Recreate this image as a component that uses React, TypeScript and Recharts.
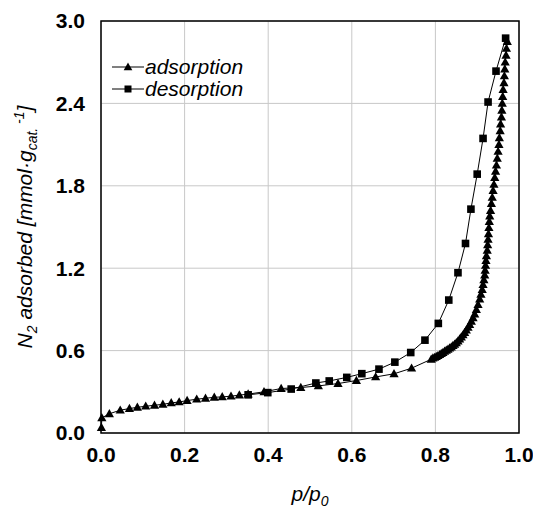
import {
  ScatterChart,
  Scatter,
  XAxis,
  YAxis,
  CartesianGrid,
  Legend,
  ReferenceArea,
  Label,
} from "recharts";

// relative pressure p/p0 and amount adsorbed (mmol/g) read from the isotherm
const adsP = [
  0.001, 0.002, 0.02, 0.046, 0.068, 0.087, 0.107, 0.128, 0.148, 0.168, 0.187,
  0.206, 0.229, 0.25, 0.271, 0.29, 0.311, 0.331, 0.352, 0.39, 0.431, 0.478,
  0.52, 0.567, 0.611, 0.657, 0.701, 0.743, 0.79, 0.794, 0.798, 0.802, 0.806,
  0.81, 0.814, 0.818, 0.822, 0.826, 0.83, 0.834, 0.838, 0.842, 0.846, 0.85,
  0.854, 0.858, 0.862, 0.866, 0.87, 0.874, 0.878, 0.882, 0.886, 0.89, 0.894,
  0.898, 0.902, 0.906, 0.909, 0.912, 0.914, 0.916, 0.918, 0.919, 0.92, 0.921,
  0.922, 0.924, 0.925, 0.926, 0.927, 0.928, 0.929, 0.93, 0.932, 0.934, 0.936,
  0.938, 0.94, 0.942, 0.944, 0.946, 0.948, 0.95, 0.952, 0.953, 0.955, 0.956,
  0.958, 0.959, 0.96, 0.961, 0.962, 0.964, 0.965, 0.966, 0.967, 0.969, 0.97,
  0.972,
];
const adsN = [
  0.04, 0.11, 0.14, 0.166, 0.178, 0.187, 0.195, 0.202, 0.209, 0.219, 0.226,
  0.236, 0.246, 0.253, 0.26, 0.263, 0.268, 0.276, 0.283, 0.3, 0.324, 0.331,
  0.343, 0.36, 0.382, 0.408, 0.431, 0.472, 0.537, 0.545, 0.55, 0.556, 0.563,
  0.57, 0.578, 0.586, 0.594, 0.602, 0.61, 0.618, 0.626, 0.636, 0.646, 0.657,
  0.67, 0.684, 0.698, 0.714, 0.731, 0.75, 0.77, 0.79, 0.813, 0.838, 0.866,
  0.898, 0.935, 0.975, 1.01, 1.045, 1.08, 1.115, 1.15, 1.185, 1.22, 1.255,
  1.29, 1.33, 1.37, 1.41, 1.45, 1.495, 1.54, 1.58, 1.62, 1.67, 1.715, 1.765,
  1.81, 1.86, 1.905, 1.95, 2.0, 2.05, 2.1, 2.15, 2.2, 2.25, 2.3, 2.35, 2.4,
  2.45, 2.5, 2.55, 2.6, 2.65, 2.7, 2.75, 2.8, 2.85,
];
const desP = [
  0.968, 0.945, 0.926, 0.914, 0.9, 0.885, 0.872, 0.854, 0.832, 0.807, 0.775,
  0.741, 0.703, 0.665, 0.624, 0.588, 0.546, 0.514, 0.455, 0.399, 0.352,
];
const desN = [
  2.875, 2.635, 2.41, 2.145, 1.885, 1.63, 1.38, 1.167, 0.968, 0.798, 0.676,
  0.586, 0.516, 0.465, 0.432, 0.405, 0.379, 0.364, 0.32, 0.294, 0.278,
];
const xTicks = [0, 0.2, 0.4, 0.6, 0.8, 1.0];
const yTicks = [0, 0.6, 1.2, 1.8, 2.4, 3.0];
const seriesNames = ["adsorption", "desorption"];

const FONT = '"Liberation Sans", Arial, sans-serif';

const adsData = adsP.map((p, i) => ({ p, n: adsN[i] }));
const desData = desP.map((p, i) => ({ p, n: desN[i] }));

function Triangle(props: any) {
  const { cx, cy } = props;
  if (cx == null || cy == null) return null;
  return (
    <polygon
      points={`${cx},${cy - 4.8} ${cx + 4.6},${cy + 3.4} ${cx - 4.6},${cy + 3.4}`}
      fill="#000"
    />
  );
}

function Square(props: any) {
  const { cx, cy } = props;
  if (cx == null || cy == null) return null;
  return <rect x={cx - 3.8} y={cy - 3.8} width={7.6} height={7.6} fill="#000" />;
}

function LegendBox() {
  const row = (name: string, marker: "tri" | "sq") => (
    <div key={name} style={{ display: "flex", alignItems: "center", height: 22 }}>
      <svg width={32} height={12} style={{ marginRight: 1 }}>
        <line x1={0} y1={6} x2={32} y2={6} stroke="#000" strokeWidth={1} />
        {marker === "tri" ? (
          <polygon points="16,1.5 20.3,9.2 11.7,9.2" fill="#000" />
        ) : (
          <rect x={12.5} y={2.5} width={7} height={7} fill="#000" />
        )}
      </svg>
      <span>{name}</span>
    </div>
  );
  return (
    <div
      style={{
        fontFamily: FONT,
        fontStyle: "italic",
        fontSize: 21,
        color: "#000",
        lineHeight: "22px",
      }}
    >
      {row(seriesNames[0], "tri")}
      {row(seriesNames[1], "sq")}
    </div>
  );
}

function YTitle(props: any) {
  const vb = props.viewBox || {};
  const cy = (vb.y ?? 21) + (vb.height ?? 412) / 2;
  const x = 32;
  return (
    <text
      x={x}
      y={cy}
      transform={`rotate(-90, ${x}, ${cy})`}
      textAnchor="middle"
      fontFamily={FONT}
      fontStyle="italic"
      fontSize={21}
      fill="#000"
    >
      N<tspan dy={5} fontSize={14}>2</tspan>
      <tspan dy={-5}> adsorbed [mmol·g</tspan>
      <tspan dy={5} fontSize={14}>cat.</tspan>
      <tspan dy={-13} fontSize={14}> -1</tspan>
      <tspan dy={8}>]</tspan>
    </text>
  );
}

function XTitle(props: any) {
  const vb = props.viewBox || {};
  const cx = (vb.x ?? 101) + (vb.width ?? 418) / 2;
  return (
    <text
      x={cx}
      y={501}
      textAnchor="middle"
      fontFamily={FONT}
      fontStyle="italic"
      fontSize={21}
      fill="#000"
    >
      p/p<tspan dy={5} fontSize={14}>0</tspan>
    </text>
  );
}

export default function App() {
  return (
    <div style={{ position: "absolute", left: 0, top: 0, background: "#fff" }}>
      <ScatterChart
        width={533}
        height={514}
        margin={{ top: 21, right: 14, bottom: 21, left: 11 }}
      >
        <CartesianGrid stroke="#c8c8c8" strokeWidth={1} />
        <XAxis
          type="number"
          dataKey="p"
          domain={[0, 1]}
          ticks={xTicks}
          tickFormatter={(v: number) => v.toFixed(1)}
          height={60}
          axisLine={false}
          tickLine={false}
          tickSize={0}
          tickMargin={14}
          tick={{ fontFamily: FONT, fontWeight: "bold", fontSize: 21, fill: "#000" }}
          interval={0}
        >
          <Label content={<XTitle />} />
        </XAxis>
        <YAxis
          type="number"
          dataKey="n"
          domain={[0, 3]}
          ticks={yTicks}
          tickFormatter={(v: number) => v.toFixed(1)}
          width={90}
          axisLine={false}
          tickLine={false}
          tickSize={0}
          tickMargin={16}
          tick={{ fontFamily: FONT, fontWeight: "bold", fontSize: 21, fill: "#000" }}
          interval={0}
        >
          <Label content={<YTitle />} />
        </YAxis>
        <ReferenceArea
          x1={0}
          x2={1}
          y1={0}
          y2={3}
          fill="none"
          stroke="#000"
          strokeWidth={1.5}
          ifOverflow="visible"
        />
        <Legend
          layout="horizontal"
          verticalAlign="middle"
          content={() => <LegendBox />}
          wrapperStyle={{ left: 112, top: 56, width: "auto" }}
        />
        <Scatter
          name={seriesNames[1]}
          data={desData}
          line={{ stroke: "#000", strokeWidth: 1 }}
          shape={<Square />}
          isAnimationActive={false}
        />
        <Scatter
          name={seriesNames[0]}
          data={adsData}
          line={{ stroke: "#000", strokeWidth: 1 }}
          shape={<Triangle />}
          isAnimationActive={false}
        />
      </ScatterChart>
    </div>
  );
}
